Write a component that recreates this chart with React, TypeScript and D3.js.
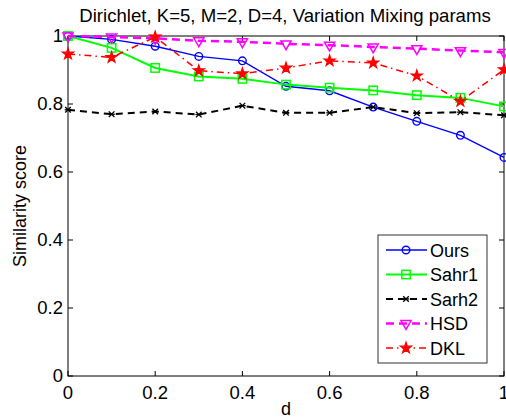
import React from "react";
import * as d3 from "d3";

const dValues = [0, 0.1, 0.2, 0.3, 0.4, 0.5, 0.6, 0.7, 0.8, 0.9, 1.0];
const ours = [1.0, 0.99, 0.97, 0.94, 0.927, 0.852, 0.839, 0.791, 0.749, 0.708, 0.643];
const sahr1 = [1.0, 0.965, 0.906, 0.881, 0.874, 0.857, 0.848, 0.84, 0.826, 0.818, 0.793];
const sarh2 = [0.783, 0.77, 0.778, 0.769, 0.795, 0.774, 0.774, 0.791, 0.773, 0.776, 0.767];
const hsd = [1.0, 0.997, 0.993, 0.986, 0.983, 0.977, 0.973, 0.968, 0.963, 0.957, 0.952];
const dkl = [0.947, 0.937, 0.997, 0.898, 0.889, 0.906, 0.927, 0.921, 0.883, 0.808, 0.901];
const tickVals = [0, 0.2, 0.4, 0.6, 0.8, 1];
const tickLabels = ["0", "0.2", "0.4", "0.6", "0.8", "1"];
const seriesNames = ["Ours", "Sahr1", "Sarh2", "HSD", "DKL"];

const W = 506, H = 419;
const x = d3.scaleLinear().domain([0, 1]).range([68, 504]);
const y = d3.scaleLinear().domain([0, 1]).range([376, 36]);
const FONT = "'Liberation Sans', Arial, Helvetica, sans-serif";

type Style = { color: string; width: number; dash: string; marker: string };
const styles: Style[] = [
  { color: "#0000ff", width: 1.4, dash: "", marker: "circle" },
  { color: "#00ff00", width: 2, dash: "", marker: "square" },
  { color: "#000000", width: 2, dash: "7,5", marker: "star6" },
  { color: "#ff00ff", width: 2.5, dash: "8,5", marker: "tri" },
  { color: "#ff0000", width: 1.5, dash: "7,4,1.5,4", marker: "pent" },
];
const allSeries = [ours, sahr1, sarh2, hsd, dkl];

function Marker({ kind, cx, cy, color }: { kind: string; cx: number; cy: number; color: string }) {
  if (kind === "circle") return <circle cx={cx} cy={cy} r={3.8} fill="none" stroke={color} strokeWidth={1.4} />;
  if (kind === "square") return <rect x={cx - 4.2} y={cy - 4.2} width={8.4} height={8.4} fill="none" stroke={color} strokeWidth={1.5} />;
  if (kind === "tri") {
    const p = d3.symbol().type(d3.symbolTriangle).size(45)();
    return <path d={p || ""} transform={`translate(${cx},${cy}) rotate(180)`} fill="none" stroke={color} strokeWidth={1.5} />;
  }
  if (kind === "pent") {
    const p = d3.symbol().type(d3.symbolStar).size(38)();
    return <path d={p || ""} transform={`translate(${cx},${cy})`} fill={color} stroke={color} strokeWidth={1.2} />;
  }
  const r = 2.8;
  return (
    <g stroke={color} strokeWidth={1.3}>
      <line x1={cx - r} y1={cy - r} x2={cx + r} y2={cy + r} />
      <line x1={cx - r} y1={cy + r} x2={cx + r} y2={cy - r} />
      <line x1={cx - r - 0.5} y1={cy} x2={cx + r + 0.5} y2={cy} />
    </g>
  );
}

export default function App() {
  const line = d3.line<number>().x((_, i) => x(dValues[i])).y((v) => y(v));
  const legX = 378, legY = 235, legW = 109, legH = 128, rowH = 24.5;
  return (
    <svg width={W} height={H} style={{ position: "absolute", left: 0, top: 0, background: "#fff" }} fontFamily={FONT}>
      <rect x={0} y={0} width={W} height={H} fill="#fff" />
      <text x={285} y={22} fontSize={18.6} textAnchor="middle" fill="#000">Dirichlet, K=5, M=2, D=4, Variation Mixing params</text>
      <rect x={68} y={36} width={436} height={340} fill="#fff" stroke="#000" strokeWidth={1} />
      {tickVals.map((t, i) => (
        <g key={"xt" + i}>
          <line x1={x(t)} x2={x(t)} y1={376} y2={371} stroke="#000" />
          <line x1={x(t)} x2={x(t)} y1={36} y2={41} stroke="#000" />
          <text x={x(t)} y={399} fontSize={18.5} textAnchor="middle">{tickLabels[i]}</text>
          <line x1={68} x2={73} y1={y(t)} y2={y(t)} stroke="#000" />
          <line x1={504} x2={499} y1={y(t)} y2={y(t)} stroke="#000" />
          <text x={63} y={y(t) + 6} fontSize={18.5} textAnchor="end">{tickLabels[i]}</text>
        </g>
      ))}
      <text x={286} y={415} fontSize={18} textAnchor="middle">d</text>
      <text transform={`translate(26,206) rotate(-90)`} fontSize={18} textAnchor="middle">Similarity score</text>
      {allSeries.map((s, si) => (
        <g key={"s" + si}>
          <path d={line(s) || ""} fill="none" stroke={styles[si].color} strokeWidth={styles[si].width} strokeDasharray={styles[si].dash} />
          {s.map((v, i) => (
            <Marker key={i} kind={styles[si].marker} cx={x(dValues[i])} cy={y(v)} color={styles[si].color} />
          ))}
        </g>
      ))}
      <rect x={legX} y={legY} width={legW} height={legH} fill="#fff" stroke="#333" strokeWidth={1} />
      {seriesNames.map((n, i) => {
        const cy = legY + 15 + i * rowH;
        return (
          <g key={"l" + i}>
            <line x1={386} x2={427} y1={cy} y2={cy} stroke={styles[i].color} strokeWidth={styles[i].width} strokeDasharray={styles[i].dash} />
            <Marker kind={styles[i].marker} cx={406} cy={cy} color={styles[i].color} />
            <text x={430} y={cy + 6.5} fontSize={18}>{n}</text>
          </g>
        );
      })}
    </svg>
  );
}
